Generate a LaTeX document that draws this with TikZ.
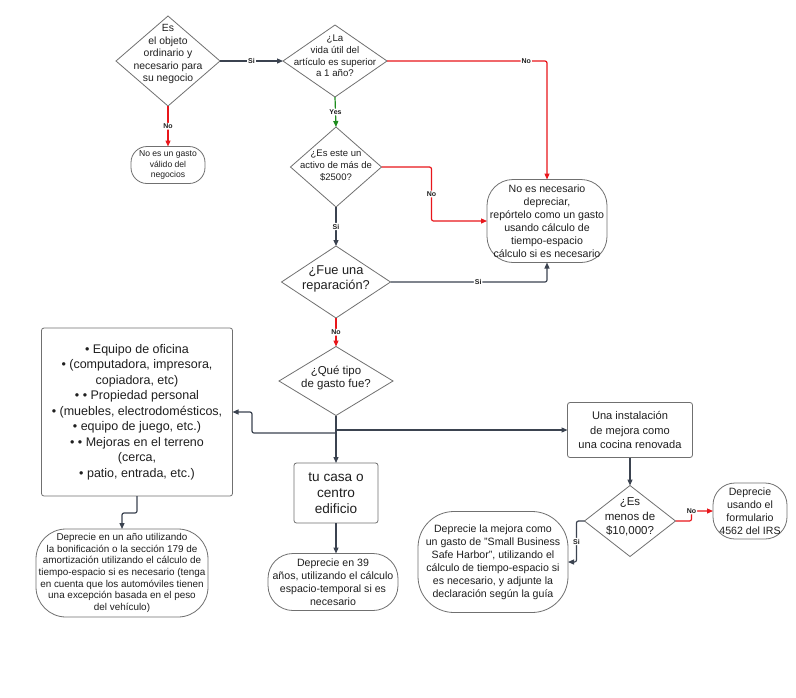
\documentclass[tikz,border=0pt]{standalone}
\usepackage{fontspec}
\setmainfont{Liberation Sans}
\usetikzlibrary{shapes.geometric,arrows.meta}
\definecolor{lg}{HTML}{3B4350}
\definecolor{lr}{HTML}{E8161B}
\definecolor{lgr}{HTML}{1E8C1E}
\definecolor{bd}{HTML}{707070}
\definecolor{tx}{HTML}{1F1F1F}
\newcommand{\fs}[2]{\fontsize{#1}{#2}\selectfont}
\tikzset{
  dia/.style={diamond, draw=bd, line width=0.8pt, inner sep=0pt, outer sep=0pt},
  txt/.style={align=center, text=tx, inner sep=0pt},
  box/.style={rectangle, draw=bd, line width=0.8pt, rounded corners=2.5pt, align=center, text=tx, inner sep=0pt, outer sep=0pt},
  term/.style={rectangle, draw=bd, line width=0.8pt, align=center, text=tx, inner sep=0pt, outer sep=0pt},
  con/.style={draw=lg, line width=1.2pt, -{Triangle[length=6pt,width=5pt]}, rounded corners=2pt},
  conR/.style={con, draw=lr},
  conG/.style={con, draw=lgr},
  lab/.style={fill=white, font=\bfseries\fs{7}{8}, text=tx, inner sep=1pt}
}
\begin{document}
\begin{tikzpicture}[x=1pt,y=-1pt]
\useasboundingbox (0,0) rectangle (796,697);
\fill[white] (0,0) rectangle (796,697);
% diamonds
\node[dia, minimum width=104pt, minimum height=90pt] (d1) at (168,61) {};
\node[txt, font=\fs{10.4}{12.5}] (d1t) at (168,54) {Es\\el objeto\\ordinario y\\necesario para\\su negocio};
\node[dia, minimum width=104pt, minimum height=72pt] (d2) at (335,61) {};
\node[txt, font=\fs{9.7}{11.7}] (d2t) at (335,56) {¿La\\vida útil del\\artículo es superior\\a 1 año?};
\node[dia, minimum width=91pt, minimum height=80pt] (d3) at (336,167) {};
\node[txt, font=\fs{9.5}{12}] (d3t) at (336,166) {¿Es este un\\activo de más de\\\$2500?};
\node[dia, minimum width=109pt, minimum height=72pt] (d4) at (336,282) {};
\node[txt, font=\fs{12.8}{14.5}] (d4t) at (336,279) {¿Fue una\\reparación?};
\node[dia, minimum width=114pt, minimum height=69pt] (d5) at (336,381) {};
\node[txt, font=\fs{11.5}{13}] (d5t) at (336,378) {¿Qué tipo\\de gasto fue?};
\node[dia, minimum width=91pt, minimum height=71pt] (d6) at (630,521) {};
\node[txt, font=\fs{11.5}{14.5}] (d6t) at (630,517) {¿Es\\menos de\\\$10,000?};
% terminals
\node[term, rounded corners=16pt, minimum width=74pt, minimum height=37pt, font=\fs{8.6}{10.5}] (n3) at (168,165) {No es un gasto\\válido del\\negocios};
\node[term, rounded corners=26pt, minimum width=120pt, minimum height=83pt, font=\fs{10.6}{13}] (n5) at (547,221) {No es necesario\\depreciar,\\repórtelo como un gasto\\usando cálculo de\\tiempo-espacio\\cálculo si es necesario};
\node[term, rounded corners=22pt, minimum width=74pt, minimum height=56pt, font=\fs{10.6}{13}] (n12) at (750,511) {Deprecie\\usando el\\formulario\\4562 del IRS};
\node[term, rounded corners=36pt, minimum width=150pt, minimum height=101pt, font=\fs{10.6}{13}] (n13) at (493,562) {Deprecie la mejora como\\un gasto de "Small Business\\Safe Harbor", utilizando el\\cálculo de tiempo-espacio si\\es necesario, y adjunte la\\declaración según la guía};
\node[term, rounded corners=25pt, minimum width=130pt, minimum height=57pt, font=\fs{10.6}{13}] (n14) at (333,582) {Deprecie en 39\\años, utilizando el cálculo\\espacio-temporal si es\\necesario};
\node[term, rounded corners=30pt, minimum width=172pt, minimum height=88pt, font=\fs{9.9}{11.7}] (n15) at (122,573) {Deprecie en un año utilizando\\la bonificación o la sección 179 de\\amortización utilizando el cálculo de\\tiempo-espacio si es necesario (tenga\\en cuenta que los automóviles tienen\\una excepción basada en el peso\\del vehículo)};
% boxes
\node[box, minimum width=191pt, minimum height=168pt, font=\fs{12.5}{15.5}] (n8) at (137,412) {• Equipo de oficina\\• (computadora, impresora,\\copiadora, etc)\\• • Propiedad personal\\• (muebles, electrodomésticos,\\• equipo de juego, etc.)\\• • Mejoras en el terreno\\(cerca,\\• patio, entrada, etc.)};
\node[box, minimum width=84pt, minimum height=60pt, font=\fs{13.6}{16}] (n9) at (336,493) {tu casa o\\centro\\edificio};
\node[box, minimum width=125pt, minimum height=55pt, font=\fs{11.1}{14.5}] (n10) at (630,430) {Una instalación\\de mejora como\\una cocina renovada};
% junctions
\coordinate (jL) at (336,433);
\coordinate (jLc) at (252,433);
% connectors
\draw[con] (d1.east) -- node[lab]{Si} (d2.west);
\draw[conR] (d1.south) -- node[lab]{No} (n3.north);
\draw[conR] (d2.east) -- node[lab,pos=0.87]{No} (n5.north |- d2.east) -- (n5.north);
\draw[conG] (d2.south) -- node[lab]{Yes} (d3.north);
\draw[conR] (d3.east) -- ++(50,0) |- node[lab,pos=0.25]{No} (n5.west);
\draw[con] (d3.south) -- node[lab]{Si} (d4.north);
\draw[con] (d4.east) -| node[lab,pos=0.28]{Si} (n5.south);
\draw[conR] (d4.south) -- node[lab]{No} (d5.north);
\draw[con] (d5.south) -- (n9.north);
\draw[con] (jL) -- (jLc) |- (n8.east);
\draw[con] (d5.south |- n10.west) -- (n10.west);
\draw[con] (n8.south) -- ++(0,17) -| (n15.north);
\draw[con] (n9.south) -- (n9.south |- n14.north);
\draw[con] (n10.south) -- (d6.north);
\draw[conR] (d6.east) -- ++(16,0) |- node[lab,pos=0.5]{No} (n12.west);
\draw[con] (d6.west) -- ++(-8,0) |- node[lab,pos=0.25]{Si} (n13.east);
\end{tikzpicture}
\end{document}
